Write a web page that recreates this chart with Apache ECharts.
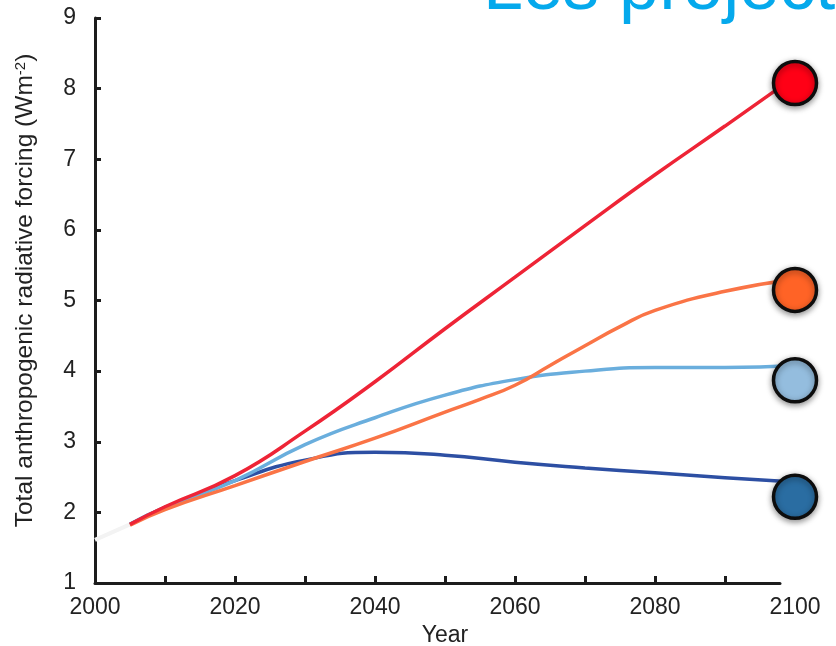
<!DOCTYPE html>
<html>
<head>
<meta charset="utf-8">
<script src="https://cdn.jsdelivr.net/npm/echarts@6/dist/echarts.min.js"></script>
<style>html,body{margin:0;padding:0;background:#fff;}#c{width:836px;height:646px;}</style>
</head>
<body>
<div id="c"></div>
<script>
// Data
var years = [2005, 2010, 2020, 2030, 2040, 2050, 2060, 2070, 2080, 2090, 2100];
var years60 = [2005, 2010, 2020, 2030, 2040, 2050, 2055, 2060, 2065, 2070, 2075, 2080, 2090, 2100];
var histYears = [2000, 2005];
var histValues = [1.61, 1.83];
var rcp26 = [1.83, 2.07, 2.45, 2.74, 2.85, 2.81, 2.71, 2.63, 2.56, 2.49, 2.43];
var rcp45 = [1.83, 2.07, 2.45, 2.96, 3.34, 3.66, 3.88, 4.00, 4.05, 4.05, 4.08];
var rcp60 = [1.82, 2.04, 2.38, 2.72, 3.05, 3.42, 3.60, 3.80, 4.08, 4.36, 4.63, 4.86, 5.13, 5.30];
var rcp85 = [1.83, 2.08, 2.52, 3.15, 3.85, 4.60, 5.33, 6.06, 6.78, 7.47, 8.17];
var endYear = 2100;
var endMarkers = [8.08, 5.15, 3.87, 2.22]; // red, orange, light blue, dark blue
var xTickValues = [2010, 2020, 2030, 2040, 2050, 2060, 2070, 2080, 2090];
var xLabelValues = [2000, 2020, 2040, 2060, 2080, 2100];
var titleText = 'Les projections';
var xName = 'Year';

function pairs(xs, ys) { return xs.map(function (x, i) { return [x, ys[i]]; }); }

var FONT = 'Liberation Sans, Arial, Helvetica, sans-serif';
var AX = '#1c1c1c';

var lineColors = ['#2D4FA3', '#6AAEDD', '#FA7446', '#EE2436'];
var markerColors = ['#FF0016', '#FF6326', '#94BDDE', '#2A6DA2'];
var lineData = [pairs(years, rcp26), pairs(years, rcp45), pairs(years60, rcp60), pairs(years, rcp85)];

var series = [{
  type: 'line', xAxisIndex: 0, yAxisIndex: 0,
  data: pairs(histYears, histValues), showSymbol: false, silent: true,
  lineStyle: { color: '#f3f3f3', width: 4 }, z: 1
}];
lineData.forEach(function (d, i) {
  series.push({
    type: 'line', xAxisIndex: 0, yAxisIndex: 0,
    data: d, smooth: 0.5,
    showSymbol: false, silent: true,
    lineStyle: { color: lineColors[i], width: 3.5 }, z: 2 + i
  });
});
endMarkers.forEach(function (v, i) {
  series.push({
    type: 'scatter', xAxisIndex: 0, yAxisIndex: 0,
    data: [[endYear, v]], symbol: 'circle', symbolSize: 43, silent: true,
    itemStyle: { color: markerColors[i], borderColor: '#0d0d0d', borderWidth: 3.5,
      shadowBlur: 6, shadowColor: 'rgba(0,0,0,0.4)', shadowOffsetY: 2, opacity: 1 },
    z: 10
  });
});

var chart = echarts.init(document.getElementById('c'), null, { renderer: 'canvas' });
chart.setOption({
  animation: false,
  backgroundColor: '#ffffff',
  title: {
    text: titleText, left: 478, top: -52,
    textStyle: { fontFamily: FONT, fontSize: 72, fontWeight: 'normal', color: '#05A9EC' }
  },
  grid: [
    { left: 95, right: 41, top: 18, bottom: 63, containLabel: false, outerBoundsMode: 'none' },
    { left: 95, right: 56, top: 18, bottom: 63, containLabel: false, outerBoundsMode: 'none' }
  ],
  xAxis: [{
    type: 'value', gridIndex: 0, min: 2000, max: 2100, interval: 10,
    name: xName, nameLocation: 'middle', nameGap: 40,
    nameTextStyle: { fontFamily: FONT, fontSize: 23, color: '#222' },
    axisLine: { show: false },
    axisTick: { show: true, inside: true, length: 7, lineStyle: { color: AX, width: 3 }, customValues: xTickValues },
    axisLabel: { fontFamily: FONT, fontSize: 23, color: '#222', margin: 13, customValues: xLabelValues,
      formatter: function (v) { return String(v); } },
    splitLine: { show: false }
  }, {
    type: 'value', gridIndex: 1, min: 0, max: 1,
    axisLine: { show: true, lineStyle: { color: AX, width: 3 } },
    axisTick: { show: false }, axisLabel: { show: false }, splitLine: { show: false }
  }],
  yAxis: [{
    type: 'value', gridIndex: 0, min: 1, max: 9, interval: 1,
    name: 'Total anthropogenic radiative forcing (Wm{sup|-2})',
    nameLocation: 'middle', nameGap: 57, nameRotate: 90,
    nameTextStyle: { fontFamily: FONT, fontSize: 24.5, color: '#222', padding: [0, 0, 0, 20],
      rich: { sup: { fontFamily: FONT, fontSize: 15, color: '#222', verticalAlign: 'top', padding: [0, 0, 10, 0] } } },
    axisLine: { show: true, lineStyle: { color: AX, width: 3 } },
    axisTick: { show: true, inside: true, length: 6, lineStyle: { color: AX, width: 3 } },
    axisLabel: { fontFamily: FONT, fontSize: 23, color: '#222', margin: 19 },
    splitLine: { show: false }
  }, {
    type: 'value', gridIndex: 1, show: false, min: 0, max: 1
  }],
  series: series
});
</script>
</body>
</html>
